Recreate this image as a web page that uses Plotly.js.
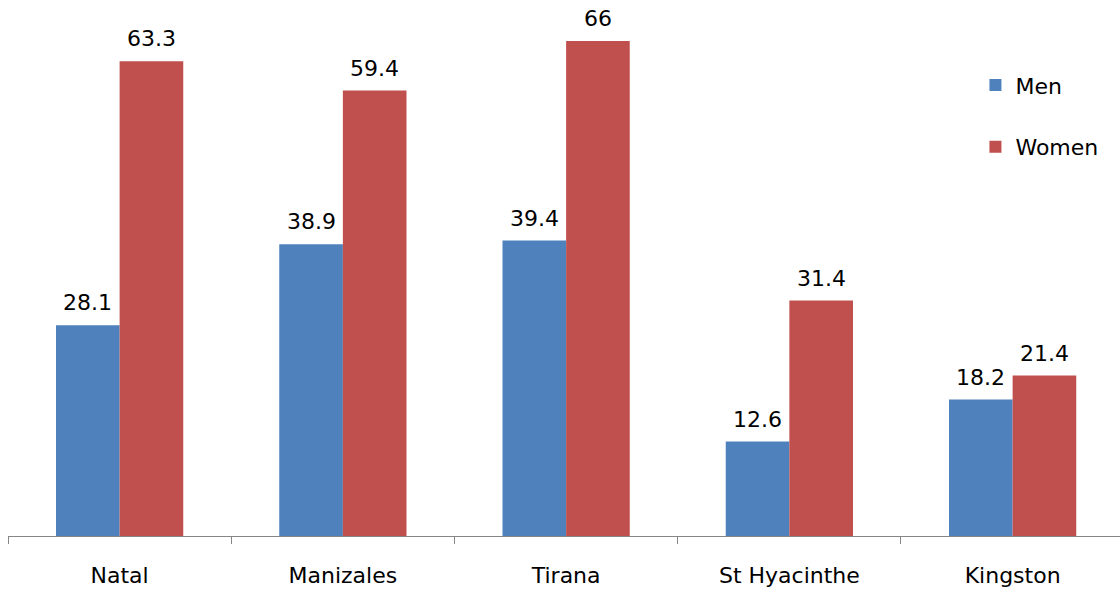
<!DOCTYPE html>
<html><head><meta charset="utf-8">
<script src="https://cdn.plot.ly/plotly-3.0.1.min.js"></script>
<style>html,body{margin:0;padding:0;background:#fff}#chart{width:1120px;height:592px}</style>
</head><body><div id="chart"></div>
<script>
const categories = ["Natal", "Manizales", "Tirana", "St Hyacinthe", "Kingston"];
const menValues = [28.1, 38.9, 39.4, 12.6, 18.2];
const womenValues = [63.3, 59.4, 66, 31.4, 21.4];
const seriesNames = ["Men", "Women"];
const seriesColors = ['#4F81BD', '#C0504D'];

const fontFam = "DejaVu Sans, Noto Sans, sans-serif";
const traces = [
  {type:'bar', name:seriesNames[0], x:categories, y:menValues, marker:{color:seriesColors[0]},
   legendgroup:'a', hoverinfo:'none'},
  {type:'bar', name:seriesNames[1], x:categories, y:womenValues, marker:{color:seriesColors[1]},
   legendgroup:'b', hoverinfo:'none'}
];
const halfBar = 31.8;
const annotations = [];
[menValues, womenValues].forEach((vals, si) => {
  vals.forEach((v, i) => {
    annotations.push({x:categories[i], y:v, xref:'x', yref:'y', text:String(v), showarrow:false,
      xanchor:'center', yanchor:'bottom', xshift:(si === 0 ? -halfBar : halfBar), yshift:8,
      font:{size:22, color:'#000', family:fontFam}});
  });
});
const layout = {
  width:1120, height:592,
  margin:{l:8, r:0, t:0, b:56},
  paper_bgcolor:'#fff', plot_bgcolor:'#fff',
  font:{family:fontFam, size:22, color:'#000'},
  barmode:'group', bargap:0.43, bargroupgap:0,
  xaxis:{type:'category', range:[-0.5, 4.481], showline:true, linecolor:'#868686', linewidth:1,
    ticks:'outside', tickson:'boundaries', ticklen:7, tickcolor:'#868686',
    tickfont:{size:22,color:'#000'}, ticklabelstandoff:20, showgrid:false, zeroline:false},
  yaxis:{range:[0, 71.47], visible:false, showgrid:false, zeroline:false},
  showlegend:true,
  legend:{x:0.87, y:0.88, xanchor:'left', yanchor:'top', tracegroupgap:30,
    traceorder:'grouped', font:{size:22,color:'#000'}, bgcolor:'rgba(0,0,0,0)'},
  annotations: annotations
};
Plotly.newPlot('chart', traces, layout, {staticPlot:true});
</script></body></html>
